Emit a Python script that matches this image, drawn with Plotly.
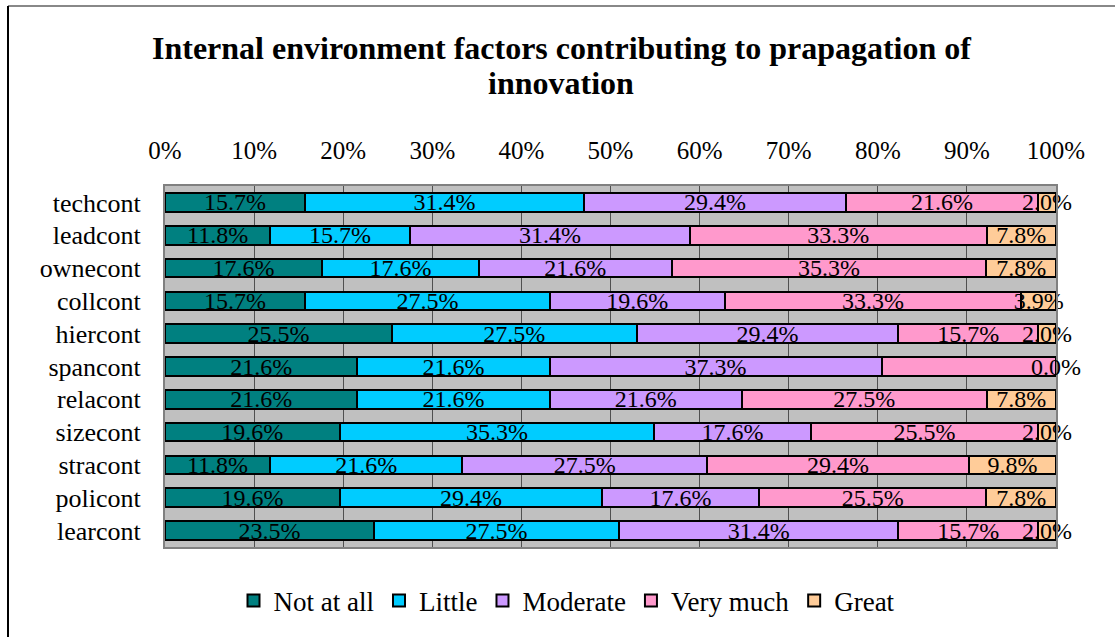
import plotly.graph_objects as go

# Survey categories (top to bottom) and answer levels
categories = ["techcont", "leadcont", "ownecont", "collcont", "hiercont", "spancont",
              "relacont", "sizecont", "stracont", "policont", "learcont"]
levels = ["Not at all", "Little", "Moderate", "Very much", "Great"]

not_at_all = [15.7, 11.8, 17.6, 15.7, 25.5, 21.6, 21.6, 19.6, 11.8, 19.6, 23.5]
little     = [31.4, 15.7, 17.6, 27.5, 27.5, 21.6, 21.6, 35.3, 21.6, 29.4, 27.5]
moderate   = [29.4, 31.4, 21.6, 19.6, 29.4, 37.3, 21.6, 17.6, 27.5, 17.6, 31.4]
very_much  = [21.6, 33.3, 35.3, 33.3, 15.7, 19.6, 27.5, 25.5, 29.4, 25.5, 15.7]
great      = [2.0, 7.8, 7.8, 3.9, 2.0, 0.0, 7.8, 2.0, 9.8, 7.8, 2.0]

tick_vals = [0, 10, 20, 30, 40, 50, 60, 70, 80, 90, 100]

title_lines = ["Internal environment factors contributing to prapagation of", "innovation"]

series = [not_at_all, little, moderate, very_much, great]
colors = ["#008080", "#00CCFF", "#CC99FF", "#FF99CC", "#FFCC99"]

FONT = "'Liberation Serif', 'Times New Roman', Times, serif"

fig = go.Figure()
for name, vals, col in zip(levels, series, colors):
    fig.add_trace(go.Bar(
        y=categories, x=vals, name=name, orientation="h",
        marker=dict(color=col, line=dict(color="black", width=2)),
        text=[f"{v:.1f}%" for v in vals],
        textposition="inside", insidetextanchor="middle", textangle=0,
        constraintext="none", cliponaxis=False,
        textfont=dict(family=FONT, size=24, color="black"),
        hoverinfo="skip",
    ))

# Zero-length segments get no bar text, so label them at their stacked position
row_totals = [sum(vals) for vals in zip(*series)]
for s_idx, vals in enumerate(series):
    for c_idx, v in enumerate(vals):
        if v == 0:
            start = sum(series[k][c_idx] for k in range(s_idx))
            fig.add_annotation(
                x=100 * start / row_totals[c_idx], y=categories[c_idx],
                text=f"{v:.1f}%", showarrow=False,
                xanchor="center", yanchor="middle",
                font=dict(family=FONT, size=24, color="black"),
            )

# Outer frame lines (left and top edges of the chart box)
L, R, T, B = 165, 59, 186, 90
W, H = 1115 - L - R, 637 - T - B
def px(x):
    return (x - L) / W
def py(y):
    return (637 - B - y) / H

fig.add_shape(type="line", xref="paper", yref="paper",
              x0=px(8), x1=px(1115), y0=py(6), y1=py(6),
              line=dict(color="#888888", width=2))
fig.add_shape(type="line", xref="paper", yref="paper",
              x0=px(8), x1=px(8), y0=py(6), y1=py(640),
              line=dict(color="black", width=2))

# Two-line chart title with tighter line spacing
for line, ypix in zip(title_lines, [48, 83]):
    fig.add_annotation(
        xref="paper", yref="paper", x=px(561), y=py(ypix),
        text=f"<b>{line}</b>", showarrow=False,
        xanchor="center", yanchor="middle",
        font=dict(family=FONT, size=32, color="black"),
    )

fig.update_layout(
    width=1115, height=637,
    margin=dict(l=L, r=R, t=T, b=B),
    barmode="stack", barnorm="percent", bargap=0.43,
    paper_bgcolor="white", plot_bgcolor="#C0C0C0",
    font=dict(family=FONT, size=24, color="black"),
    uniformtext=dict(minsize=24, mode="show"),
    xaxis=dict(
        side="top", range=[0, 100], tickvals=tick_vals,
        ticktext=[f"{v}%" for v in tick_vals],
        showgrid=True, gridcolor="#505050", gridwidth=1,
        ticks="outside", ticklen=15, tickcolor="rgba(0,0,0,0)",
        showline=True, linecolor="#808080", linewidth=2, mirror=True,
        zeroline=False, fixedrange=True,
        tickfont=dict(family=FONT, size=25),
    ),
    yaxis=dict(
        autorange="reversed", type="category",
        ticks="outside", ticklen=17, tickcolor="rgba(0,0,0,0)",
        showline=True, linecolor="#808080", linewidth=2, mirror=True,
        showgrid=False, fixedrange=True,
        tickfont=dict(family=FONT, size=26),
    ),
    legend=dict(
        orientation="h", x=px(567), xanchor="center",
        y=py(601), yanchor="middle",
        font=dict(family=FONT, size=27), traceorder="normal",
        itemwidth=30,
    ),
    showlegend=True,
)

fig.write_html("out.html")
